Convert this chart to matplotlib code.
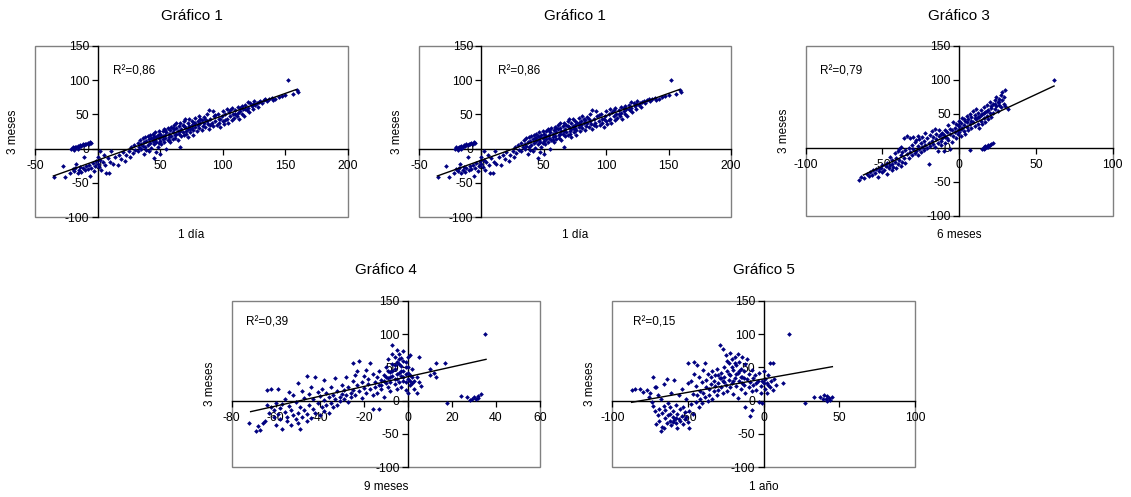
import matplotlib
matplotlib.use("Agg")
import matplotlib.pyplot as plt
from matplotlib.patches import Rectangle

plt.rcParams["font.family"] = ["Liberation Sans", "DejaVu Sans"]
plt.rcParams["axes.unicode_minus"] = False

# --- Gráfico 1: 3 meses vs 1 día -------------------------------------------
pts1 = [
    (-21, 0), (-20, 2), (-19, 1), (-18, 3), (-17, 2), (-16, 4), (-15, 3), (-14, 5), (-13, 4),
    (-12, 6), (-11, 5), (-10, 7), (-9, 6), (-8, 8), (-7, 7), (-6, 9), (-5, 8), (-19, -2), (-16, 0),
    (-35, -42), (-28, -25), (-26, -41), (-22, -35), (-20, -30), (-19, -33), (-18, -28), (-17, -22),
    (-16, -36), (-15, -31), (-14, -27), (-13, -34), (-12, -29), (-11, -13), (-10, -32), (-9, -26),
    (-8, -30), (-7, -24), (-6, -40), (-5, -28), (-4, -21), (-3, -33), (-2, -25), (-1, -18), (0, -22),
    (0, -12), (1, -27), (2, -17), (2, -4), (3, -31), (4, -20), (5, -9), (6, -24), (7, -35), (8, -14),
    (9, -36), (10, -19), (11, -4), (12, -22), (14, -13), (16, -24), (17, -9), (19, -15), (20, -5),
    (22, -18), (23, -9), (25, -3), (26, -12), (27, 2), (28, -7), (29, 5), (30, -2),
    (32, 8), (32, -4), (33, 3), (34, 12), (35, -1), (35, 6), (36, 15), (37, 9), (37, -8), (38, 2),
    (38, 17), (39, 11), (40, 5), (40, 18), (41, 14), (41, -3), (42, 8), (42, 20), (43, 16), (43, 1),
    (44, 11), (44, 22), (45, -14), (45, 6), (45, 18), (46, 13), (46, 24), (47, 9), (47, -5), (48, 20),
    (48, 2), (49, 15), (49, 26), (50, 11), (50, 22), (50, -8), (51, 18), (51, 6), (52, 25), (52, 14),
    (53, 28), (53, 9), (54, 20), (54, 16), (55, 24), (55, -1), (56, 12), (56, 30), (57, 22), (57, 17),
    (58, 27), (58, 10), (59, 32), (59, 19), (60, 24), (60, 14), (61, 35), (61, 28), (62, 20), (62, 16),
    (63, 30), (63, 38), (64, 25), (64, 13), (65, 33), (65, 21), (66, 2), (66, 37), (67, 28), (67, 18),
    (68, 34), (68, 24), (69, 40), (69, 20), (70, 31), (70, 43), (71, 26), (71, 22), (72, 38), (72, 17),
    (73, 33), (73, 44), (74, 29), (74, 24), (75, 41), (75, 35), (76, 27), (76, 20), (77, 38), (78, 45),
    (78, 31), (79, 26), (80, 40), (80, 35), (81, 30), (81, 47), (82, 37), (83, 42), (83, 27), (84, 33),
    (85, 46), (85, 38), (86, 31), (87, 50), (87, 41), (88, 36), (89, 56), (89, 29), (90, 44), (91, 38),
    (92, 55), (92, 33), (93, 47), (94, 40), (95, 35), (96, 51), (97, 43), (97, 38), (98, 32), (99, 48),
    (100, 55), (100, 40), (101, 36), (102, 50), (103, 58), (103, 44), (104, 38), (105, 53), (106, 47),
    (107, 59), (107, 42), (108, 51), (109, 45), (110, 57), (111, 48), (112, 61), (112, 52), (113, 44),
    (114, 55), (115, 62), (115, 50), (116, 58), (117, 48), (118, 64), (119, 56), (120, 68), (120, 60),
    (121, 53), (122, 66), (123, 62), (124, 58), (125, 69), (126, 64), (127, 67), (128, 61), (130, 70),
    (131, 66), (133, 71), (135, 69), (137, 72), (139, 74), (140, 71), (142, 73), (145, 76), (147, 77),
    (150, 78), (152, 100), (156, 80), (159, 86), (160, 83),
    (36, 4), (39, -2), (44, 15), (47, 17), (49, 8), (52, 19), (54, 27), (57, 12), (60, 30), (63, 22),
    (66, 26), (69, 33), (72, 29), (75, 30), (78, 38), (82, 44), (86, 43), (90, 34), (94, 49), (98, 44),
    (102, 42), (106, 56), (110, 50), (114, 60), (118, 58), (124, 65), (129, 68), (134, 72),
]
trend1_x = [-35.3, 158.7]
trend1_y = [-40, 86.4]

# --- Gráfico 3: 3 meses vs 6 meses -----------------------------------------
pts3 = [
    (-65, -47), (-64, -42), (-62, -44), (-60, -38), (-59, -41), (-58, -36), (-57, -40), (-56, -33),
    (-55, -37), (-54, -31), (-53, -43), (-52, -34), (-51, -29), (-50, -36), (-50, -25), (-49, -32),
    (-48, -27), (-47, -38), (-47, -22), (-46, -30), (-45, -25), (-45, -13), (-44, -33), (-44, -18),
    (-43, -28), (-42, -21), (-42, -8), (-41, -30), (-41, -14), (-40, -24), (-40, -5), (-39, -17),
    (-39, -2), (-38, -26), (-38, -10), (-38, 2), (-37, -20), (-37, -6), (-36, 15), (-36, -14),
    (-35, -3), (-35, -22), (-34, -9), (-34, 17), (-33, 0), (-33, -15), (-32, -6), (-32, 14), (-31, -11),
    (-31, 5), (-30, 16), (-30, -2), (-29, -8), (-29, 9), (-28, 12), (-28, -4), (-27, 3), (-27, 18),
    (-26, -1), (-26, 13), (-25, 7), (-25, -6), (-24, 16), (-24, 2), (-23, 10), (-23, -3), (-22, 22),
    (-22, 5), (-21, 14), (-21, 0), (-20, -24), (-20, 8), (-19, 19), (-19, 3), (-18, 11), (-18, 25),
    (-17, 6), (-17, 16), (-16, 1), (-16, 28), (-15, 13), (-15, 20), (-14, 8), (-14, -4), (-13, 17),
    (-13, 26), (-12, 10), (-12, 4), (-11, 22), (-11, 14), (-10, -5), (-10, 19), (-9, 8), (-9, 27),
    (-8, 15), (-8, 24), (-7, 12), (-7, 34), (-6, 20), (-6, -2), (-5, 26), (-5, 9), (-4, 17), (-4, 38),
    (-3, 23), (-3, 30), (-2, 14), (-2, 35), (-1, 27), (-1, 20), (0, 32), (0, 24), (0, 40), (1, 18),
    (1, 37), (2, 29), (2, 44), (3, 25), (3, 34), (4, 39), (4, 21), (5, 47), (5, 31), (6, 27), (6, 42),
    (7, -3), (7, 36), (7, 50), (8, 30), (8, 45), (9, 38), (9, 55), (10, 33), (10, 48), (11, 42),
    (11, 58), (12, 36), (12, 52), (13, 45), (13, 29), (14, 56), (14, 40), (15, 50), (15, 35), (16, 44),
    (16, 60), (17, 53), (17, 38), (18, 47), (18, 63), (19, 42), (19, 56), (20, 51), (20, 68), (21, 59),
    (21, 45), (22, 65), (22, 52), (23, 70), (23, 58), (24, 62), (24, 75), (25, 55), (25, 68), (26, 72),
    (26, 63), (27, 78), (27, 60), (28, 70), (28, 82), (29, 65), (29, 75), (30, 85), (30, 62), (32, 57),
    (62, 100),
    (15, -1), (16, 1), (17, 0), (17, 3), (18, 2), (19, 4), (19, 1), (20, 5), (21, 6), (22, 8), (16, -2),
    (-1, 34), (1, 28), (3, 42), (5, 38), (8, 40), (10, 44), (12, 46), (14, 48), (16, 52), (18, 55),
    (21, 62), (23, 64), (26, 68), (-6, 28), (-9, 16), (-12, 21), (-27, -10), (-44, -24), (-52, -30),
]
trend3_x = [-62.4, 61.8]
trend3_y = [-39.7, 91.2]

# --- Gráfico 4: 3 meses vs 9 meses -----------------------------------------
pts4 = [
    (-72, -34), (-69, -46), (-68, -38), (-67, -44), (-66, -33), (-65, -31), (-64, 16), (-64, -6),
    (-63, -18), (-62, 18), (-62, -9), (-61, -25), (-61, -14), (-60, -36), (-60, -3), (-59, 18),
    (-59, -20), (-58, -11), (-58, -28), (-57, -42), (-57, -5), (-56, -17), (-56, 2), (-55, -24),
    (-55, -31), (-54, 13), (-54, -8), (-53, -14), (-53, -36), (-52, -21), (-52, 8), (-51, -28),
    (-51, -2), (-50, 26), (-50, -18), (-50, -33), (-49, -42), (-49, -9), (-48, -24), (-48, 14),
    (-47, -14), (-47, 4), (-46, 37), (-46, -30), (-46, -20), (-45, -6), (-45, 10), (-44, -26),
    (-44, 21), (-43, -12), (-43, 2), (-42, 35), (-42, -18), (-41, -4), (-41, 13), (-40, -22), (-40, 7),
    (-39, -9), (-39, 18), (-38, 31), (-38, -15), (-38, 1), (-37, -6), (-37, 12), (-36, -18), (-36, 5),
    (-35, -3), (-35, 20), (-34, -10), (-34, 9), (-33, 34), (-33, 2), (-32, -6), (-32, 15), (-31, 5),
    (-31, -1), (-30, 10), (-30, 24), (-29, 3), (-29, 16), (-28, 35), (-28, 8), (-27, -2), (-27, 20),
    (-26, 12), (-26, 5), (-25, 56), (-25, 30), (-25, 16), (-24, 38), (-24, 9), (-23, 24), (-23, 44),
    (-22, 60), (-22, 14), (-21, 28), (-21, 4), (-20, 37), (-20, 19), (-19, 11), (-19, 46), (-18, 25),
    (-18, 33), (-17, 57), (-17, 17), (-16, -12), (-16, 8), (-16, 40), (-15, 28), (-15, 21), (-14, 12),
    (-14, 36), (-13, -13), (-13, 24), (-13, 45), (-12, 31), (-12, 18), (-11, 39), (-11, 6), (-10, 27),
    (-10, 50), (-9, 34), (-9, 20), (-9, 62), (-8, 43), (-8, 28), (-8, 14), (-7, 55), (-7, 37), (-7, 70),
    (-7, 83), (-6, 25), (-6, 47), (-6, 65), (-5, 76), (-5, 33), (-5, 58), (-5, 18), (-4, 42), (-4, 70),
    (-4, 28), (-3, 52), (-3, 37), (-3, 64), (-3, 21), (-2, 45), (-2, 30), (-2, 74), (-1, 58), (-1, 16),
    (-1, 40), (0, 33), (0, 11), (0, 50), (0, 66), (1, 24), (1, 68), (1, 38), (2, 26), (2, 47), (3, 30),
    (3, 18), (4, 11), (4, 36), (5, 66), (5, 28), (6, 22), (10, 48), (10, 38), (12, 41), (13, 56),
    (13, 35), (17, 56), (17.6, -4), (24, 7), (27, 6), (28, 1), (29, 3), (30, 5), (31, 2), (32, 7),
    (33, 10), (32, 4), (35, 100),
    (-8, 36), (-7, 45), (-6, 32), (-5, 40), (-4, 55), (-3, 44), (-2, 60), (-1, 28), (0, 42), (-9, 44),
    (-10, 36), (-6, 54), (-4, 62), (-2, 36), (-1, 50), (1, 30), (2, 36), (-11, 30), (-12, 24),
]
trend4_x = [-71.4, 35.5]
trend4_y = [-16.5, 62]

# --- Gráfico 5: 3 meses vs 1 año -------------------------------------------
pts5 = [
    (-87, 16), (-85, 18), (-82, 17), (-80, 13), (-77, 16), (-76, 6), (-75, 11), (-74, -2), (-73, 36),
    (-73, -8), (-72, 20), (-72, -15), (-71, 21), (-71, -35), (-70, 9), (-70, -22), (-69, -12),
    (-69, -30), (-68, -46), (-68, 3), (-67, -18), (-67, -40), (-66, -41), (-66, -8), (-66, 25),
    (-65, -26), (-65, -14), (-64, 33), (-64, -33), (-63, -21), (-63, -4), (-62, -30), (-62, -10),
    (-61, 12), (-61, -37), (-60, -24), (-60, -16), (-59, 31), (-59, -29), (-58, -6), (-58, -34),
    (-57, -41), (-57, -20), (-56, -27), (-56, 8), (-55, -13), (-55, -31), (-54, -23), (-54, 17),
    (-53, -35), (-53, -9), (-52, -17), (-52, -28), (-51, 2), (-51, -25), (-50, 56), (-50, -32),
    (-50, 26), (-49, -41), (-49, -15), (-48, -5), (-48, 30), (-47, 10), (-47, -20), (-46, 58),
    (-46, 40), (-45, -2), (-45, 22), (-44, 53), (-44, 8), (-43, -10), (-43, 35), (-42, 15), (-42, 2),
    (-41, 28), (-41, -4), (-40, 46), (-40, 12), (-39, 56), (-39, 5), (-38, 31), (-38, 20), (-37, -1),
    (-37, 40), (-36, 18), (-36, 8), (-35, 35), (-35, 25), (-34, 44), (-34, 3), (-33, 14), (-33, 30),
    (-32, 22), (-32, 38), (-31, 9), (-31, 48), (-30, 26), (-30, 16), (-29, 83), (-29, 34), (-28, 20),
    (-28, 42), (-27, 78), (-27, 11), (-27, 30), (-26, 50), (-26, 36), (-25, 24), (-25, 68), (-24, 44),
    (-24, 15), (-23, 56), (-23, 31), (-22, 72), (-22, 38), (-22, 20), (-21, 62), (-21, 27), (-20, 46),
    (-20, 10), (-19, 66), (-19, 34), (-18, 53), (-18, 22), (-17, 42), (-17, 70), (-17, 4), (-16, 30),
    (-16, 58), (-15, 18), (-15, 48), (-14, 66), (-14, 36), (-13, 24), (-13, 44), (-12, -9), (-12, 12),
    (-12, 55), (-11, 63), (-11, 32), (-10, 20), (-10, 40), (-9, -23), (-9, 28), (-8, -14), (-8, 46),
    (-8, 14), (-7, 34), (-7, 24), (-6, 38), (-5, 26), (-5, 16), (-4, 30), (-3, -2), (-3, 41), (-2, 22),
    (-2, 11), (-1, -4), (-1, 30), (0, 26), (0, 44), (1, 18), (1, 33), (2, 27), (2, 12), (3, 24), (3, 38),
    (4, 56), (4, 20), (5, 30), (6, 56), (6, 16), (7, 32), (8, 24), (13, 27), (17, 100), (27, -4),
    (33, 6), (37, 6), (39, 3), (40, 8), (41, 2), (42, 7), (43, 4), (44, 1), (45, 5), (42, 0),
    (-24, 60), (-23, 40), (-21, 50), (-20, 30), (-19, 56), (-18, 40), (-16, 44), (-15, 36),
    (-14, 26), (-13, 34), (-26, 28), (-28, 34), (-30, 38), (-62, -20), (-60, -32), (-58, -26),
]
trend5_x = [-87.2, 45.4]
trend5_y = [-2.5, 51]

y_ticks = [-100, -50, 0, 50, 100, 150]
NAVY = "#000080"
W, H = 1131, 497


def px_box(left, top, right, bottom):
    """Pixel box (from top-left) -> figure fraction rect."""
    return [left / W, 1 - bottom / H, (right - left) / W, (bottom - top) / H]


def draw_panel(fig, box, pts, trend_x, trend_y, xlim, xticks, title, xlabel, r2, r2_xy, title_y, xlabel_y):
    ax = fig.add_axes(px_box(*box))
    xs = [p[0] for p in pts]
    ys = [p[1] for p in pts]
    ax.plot(xs, ys, ls="none", marker="D", ms=2.4, mew=0, color=NAVY, zorder=3)
    ax.plot(trend_x, trend_y, color="black", lw=1.0, zorder=4)

    ax.set_xlim(*xlim)
    ax.set_ylim(-100, 150)
    ax.set_xticks(xticks)
    ax.set_yticks(y_ticks)
    for side in ("top", "right"):
        ax.spines[side].set_visible(False)
    for side in ("left", "bottom"):
        ax.spines[side].set_position(("data", 0))
        ax.spines[side].set_linewidth(1.0)
        ax.spines[side].set_color("black")
    ax.tick_params(direction="out", length=4, width=0.9, labelsize=8.8, pad=2)
    ax.tick_params(axis="x", pad=4)
    ax.patch.set_visible(False)
    ax.add_patch(Rectangle((0, 0), 1, 1, transform=ax.transAxes, fill=False,
                           edgecolor="#808080", lw=1.0, clip_on=False, zorder=1))

    ax.text(r2_xy[0], r2_xy[1], "R²=" + r2, transform=ax.transAxes,
            fontsize=8.5, ha="left", va="center")

    left, top, right, bottom = box
    cx = (left + right) / 2 / W
    fig.text(cx, 1 - title_y / H, title, ha="center", va="center", fontsize=11)
    fig.text(cx, 1 - xlabel_y / H, xlabel, ha="center", va="center", fontsize=8.5)
    fig.text((left - 22) / W, 1 - (top + bottom) / 2 / H, "3 meses", rotation=90,
             ha="center", va="center", fontsize=8.5)
    return ax


fig = plt.figure(figsize=(W / 100, H / 100), dpi=100)
fig.patch.set_facecolor("white")

draw_panel(fig, (35, 46, 348, 217), pts1, trend1_x, trend1_y, (-50, 200),
           [-50, 0, 50, 100, 150, 200], "Gráfico 1", "1 día", "0,86", (0.25, 0.85), 16, 235)
draw_panel(fig, (419, 46, 731, 217), pts1, trend1_x, trend1_y, (-50, 200),
           [-50, 0, 50, 100, 150, 200], "Gráfico 1", "1 día", "0,86", (0.254, 0.85), 16, 235)
draw_panel(fig, (805.7, 46, 1112.7, 216), pts3, trend3_x, trend3_y, (-100, 100),
           [-100, -50, 0, 50, 100], "Gráfico 3", "6 meses", "0,79", (0.047, 0.85), 16, 235)
draw_panel(fig, (231.7, 300.7, 540, 467.3), pts4, trend4_x, trend4_y, (-80, 60),
           [-80, -60, -40, -20, 0, 20, 40, 60], "Gráfico 4", "9 meses", "0,39", (0.045, 0.868), 270, 486.7)
draw_panel(fig, (612.3, 300.7, 915, 467.3), pts5, trend5_x, trend5_y, (-100, 100),
           [-100, -50, 0, 50, 100], "Gráfico 5", "1 año", "0,15", (0.069, 0.868), 270, 486.7)

fig.savefig("out.png", dpi=100)
